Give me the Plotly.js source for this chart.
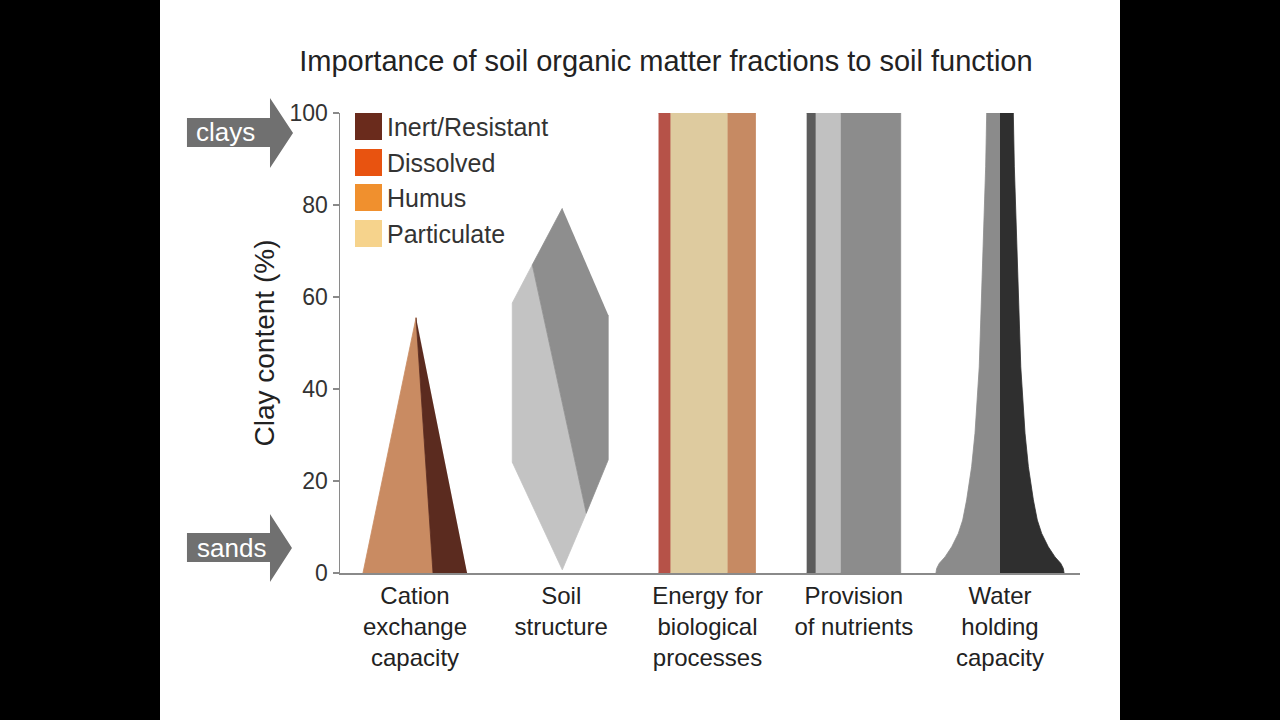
<!DOCTYPE html>
<html>
<head>
<meta charset="utf-8">
<script src="https://cdn.plot.ly/plotly-3.0.1.min.js"></script>
<style>
  html, body { margin: 0; padding: 0; background: #000; width: 1280px; height: 720px; overflow: hidden; }
  #chart { position: absolute; left: 160px; top: 0; width: 960px; height: 720px; background: #fff; }
</style>
</head>
<body>
<div id="chart"></div>
<script>
// ---------------- DATA ----------------
const categories = ['Cation<br>exchange<br>capacity', 'Soil<br>structure', 'Energy for<br>biological<br>processes', 'Provision<br>of nutrients', 'Water<br>holding<br>capacity'];
const fractionNames = ['Inert/Resistant', 'Dissolved', 'Humus', 'Particulate'];
const fractionColors = ['#6a2b1c', '#e85310', '#f0902e', '#f6d38c'];
const yTicks = [0, 20, 40, 60, 80, 100];

// Cation exchange capacity (x offset from category centre, clay %)
const cecLightX = [-0.356, 0.007, 0.123];
const cecLightY = [0, 55.5, 0];
const cecDarkX = [0.007, 0.123, 0.356];
const cecDarkY = [55.5, 0, 0];

// Soil structure
const soilLightX = [-0.198, -0.335, -0.335, 0.007, 0.171];
const soilLightY = [67.0, 58.7, 24.1, 0.7, 13.0];
const soilDarkX = [0.007, -0.198, 0.171, 0.321, 0.321];
const soilDarkY = [79.3, 67.0, 13.0, 24.6, 56.1];

// Energy for biological processes: band edges (x offsets), clay span
const energyEdges = [-0.335, -0.253, 0.137, 0.328];
const energyColors = ['#b65248', '#decb9f', '#c68a63'];
// Provision of nutrients
const nutrientEdges = [-0.322, -0.260, -0.089, 0.321];
const nutrientColors = ['#5c5c5c', '#c1c1c1', '#8c8c8c'];
const bandClay = [0, 100];

// Water holding capacity: half-width profile vs clay %
const waterClay = [100, 88.3, 73.8, 59.3, 44.8, 30.4, 23.1, 15.9, 11.5, 8.6, 5.7, 3.5, 2.1, 1.0, 0];
const waterHalf = [0.091, 0.098, 0.114, 0.125, 0.142, 0.171, 0.194, 0.228, 0.255, 0.285, 0.330, 0.376, 0.415, 0.433, 0.438];
const waterColors = ['#8b8b8b', '#2f2f2f'];

const cecColors = ['#c98b62', '#5b2b1f'];
const soilColors = ['#c3c3c3', '#8e8e8e'];

// ---------------- BUILD ----------------
const FONT = 'Liberation Sans, Arial, Helvetica, sans-serif';
const traces = [];
function poly(cat, xs, ys, color) {
  traces.push({
    type: 'scatter', mode: 'lines', fill: 'toself',
    x: xs.map(v => cat + v), y: ys.slice(),
    fillcolor: color, line: {color: color, width: 0.8},
    hoverinfo: 'skip', showlegend: false
  });
}
poly(0, cecLightX, cecLightY, cecColors[0]);
poly(0, cecDarkX, cecDarkY, cecColors[1]);
poly(1, soilLightX, soilLightY, soilColors[0]);
poly(1, soilDarkX, soilDarkY, soilColors[1]);
function bands(cat, edges, colors) {
  for (let i = 0; i < colors.length; i++) {
    poly(cat, [edges[i], edges[i + 1], edges[i + 1], edges[i]],
         [bandClay[0], bandClay[0], bandClay[1], bandClay[1]], colors[i]);
  }
}
bands(2, energyEdges, energyColors);
bands(3, nutrientEdges, nutrientColors);
// water: left (gray) and right (dark) halves
poly(4, [0].concat(waterHalf.map(v => -v), [0]), [waterClay[0]].concat(waterClay, [0]), waterColors[0]);
poly(4, [0].concat(waterHalf, [0]), [waterClay[0]].concat(waterClay, [0]), waterColors[1]);

// helpers to place decorations (page pixels -> paper)
const PL = 340, PR = 1080, PT = 113, PB = 573;
const px = X => (X - PL) / (PR - PL);
const py = Y => (PB - Y) / (PB - PT);
function arrowPath(x0, x1, xt, bTop, bBot, hTop, hBot) {
  const yc = (hTop + hBot) / 2;
  const pts = [[x0, bTop], [x1, bTop], [x1, hTop], [xt, yc], [x1, hBot], [x1, bBot], [x0, bBot]];
  return 'M' + pts.map(p => px(p[0]).toFixed(4) + ',' + py(p[1]).toFixed(4)).join(' L') + ' Z';
}
const shapes = [
  {type: 'path', xref: 'paper', yref: 'paper', path: arrowPath(187, 270, 293, 118, 147, 98, 168), fillcolor: '#707070', line: {width: 0}, layer: 'above'},
  {type: 'path', xref: 'paper', yref: 'paper', path: arrowPath(187, 270, 292, 533, 562, 514, 582), fillcolor: '#707070', line: {width: 0}, layer: 'above'}
];
const annotations = [
  {xref: 'paper', yref: 'paper', x: px(225), y: py(132), text: 'clays', showarrow: false, xanchor: 'center', yanchor: 'middle', font: {family: FONT, size: 26, color: '#ffffff'}},
  {xref: 'paper', yref: 'paper', x: px(231), y: py(548), text: 'sands', showarrow: false, xanchor: 'center', yanchor: 'middle', font: {family: FONT, size: 26, color: '#ffffff'}}
];
const legTop = [113, 149, 184, 220];
fractionNames.forEach((name, i) => {
  shapes.push({type: 'rect', xref: 'paper', yref: 'paper', x0: px(355), x1: px(382), y0: py(legTop[i]), y1: py(legTop[i] + 27), fillcolor: fractionColors[i], line: {width: 0}});
  annotations.push({xref: 'paper', yref: 'paper', x: px(385), y: py(legTop[i] + 14), text: name, showarrow: false, xanchor: 'left', yanchor: 'middle', font: {family: FONT, size: 25, color: '#333333'}});
});

const layout = {
  width: 960, height: 720,
  margin: {l: 180, r: 40, t: 113, b: 147},
  paper_bgcolor: '#ffffff', plot_bgcolor: '#ffffff',
  font: {family: FONT, color: '#222'},
  title: {text: 'Importance of soil organic matter fractions to soil function', x: 0.527, xref: 'container', xanchor: 'center', y: 1 - 61 / 720, yref: 'container', yanchor: 'middle', font: {size: 29, color: '#222'}},
  showlegend: false,
  xaxis: {
    range: [-0.513, 4.547], tickmode: 'array', tickvals: [0, 1, 2, 3, 4], ticktext: categories,
    ticks: '', showline: true, linecolor: '#8a8a8a', linewidth: 2, showgrid: false, zeroline: false,
    tickfont: {size: 24, color: '#222'}, fixedrange: true
  },
  yaxis: {
    range: [0, 100], tickmode: 'array', tickvals: yTicks, ticks: 'outside', ticklen: 6, tickcolor: '#8a8a8a', tickwidth: 1.5,
    showline: true, linecolor: '#8a8a8a', linewidth: 1.5, showgrid: false, zeroline: false,
    tickfont: {size: 23, color: '#333'}, automargin: false,
    title: {text: 'Clay content (%)', font: {size: 28, color: '#222'}, standoff: 6}, fixedrange: true
  },
  shapes: shapes,
  annotations: annotations
};
Plotly.newPlot('chart', traces, layout, {displayModeBar: false, staticPlot: true});
</script>
</body>
</html>
